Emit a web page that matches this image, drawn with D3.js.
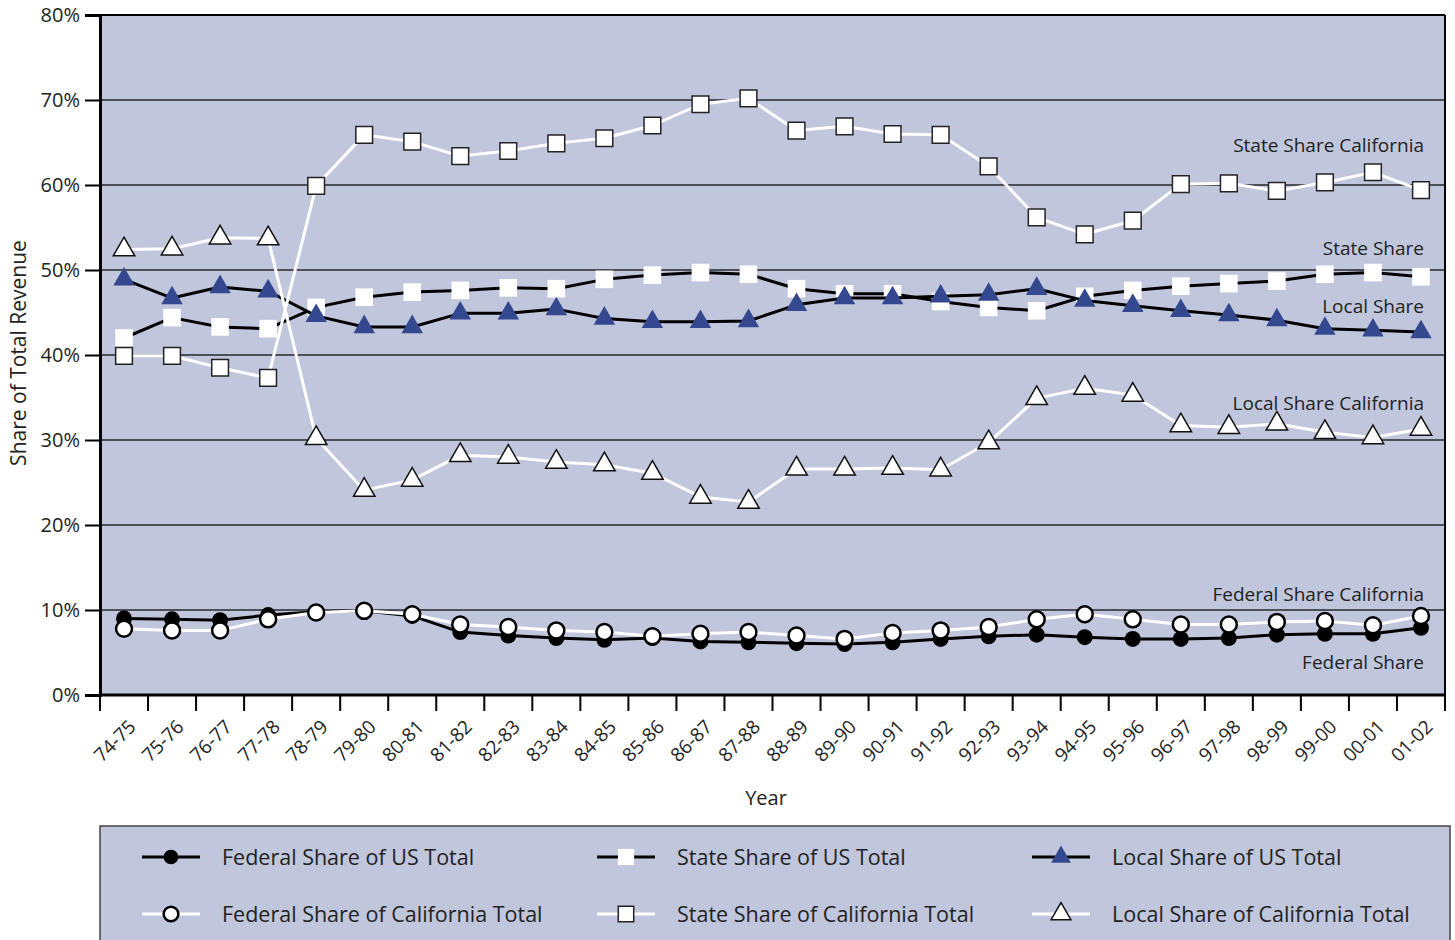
<!DOCTYPE html>
<html>
<head>
<meta charset="utf-8">
<script src="https://cdn.jsdelivr.net/npm/d3@7"></script>
<style>
  body { margin: 0; background: #fff; }
  text { font-family: "Open Sans", sans-serif; fill: #222; }
</style>
</head>
<body>
<div id="chart"></div>
<script>
  var years = ['74-75', '75-76', '76-77', '77-78', '78-79', '79-80', '80-81', '81-82',
    '82-83', '83-84', '84-85', '85-86', '86-87', '87-88', '88-89', '89-90', '90-91',
    '91-92', '92-93', '93-94', '94-95', '95-96', '96-97', '97-98', '98-99', '99-00',
    '00-01', '01-02'];

  // shares in percent
  var federalUS = [9.0, 8.9, 8.8, 9.4, 9.8, 9.9, 9.3, 7.4, 7.0, 6.7, 6.5, 6.7, 6.3, 6.2,
    6.1, 6.0, 6.2, 6.6, 6.9, 7.1, 6.8, 6.6, 6.6, 6.7, 7.1, 7.2, 7.2, 7.9];
  var stateUS = [42.0, 44.4, 43.3, 43.1, 45.6, 46.8, 47.4, 47.6, 47.9, 47.8, 48.9, 49.4,
    49.7, 49.5, 47.8, 47.2, 47.2, 46.3, 45.6, 45.2, 46.9, 47.6, 48.1, 48.4, 48.7, 49.5,
    49.7, 49.2];
  var localUS = [48.9, 46.7, 48.0, 47.5, 44.6, 43.3, 43.3, 44.9, 44.9, 45.4, 44.3, 43.9,
    43.9, 44.0, 45.9, 46.7, 46.7, 46.9, 47.1, 47.8, 46.4, 45.8, 45.2, 44.7, 44.1, 43.1,
    42.9, 42.7];
  var federalCA = [7.8, 7.6, 7.6, 8.9, 9.7, 9.9, 9.5, 8.3, 8.0, 7.6, 7.4, 6.9, 7.2, 7.4,
    7.0, 6.6, 7.3, 7.6, 8.0, 8.9, 9.5, 8.9, 8.3, 8.3, 8.6, 8.7, 8.2, 9.3];
  var stateCA = [39.9, 39.9, 38.5, 37.3, 59.9, 65.9, 65.1, 63.4, 64.0, 64.9, 65.5, 67.0,
    69.5, 70.2, 66.4, 66.9, 66.0, 65.9, 62.2, 56.2, 54.2, 55.8, 60.1, 60.2, 59.3, 60.3,
    61.5, 59.4];
  var localCA = [52.4, 52.5, 53.8, 53.7, 30.2, 24.1, 25.3, 28.2, 28.0, 27.4, 27.1, 26.1,
    23.3, 22.7, 26.6, 26.6, 26.7, 26.5, 29.7, 34.9, 36.1, 35.3, 31.7, 31.5, 31.9, 30.9,
    30.3, 31.3];

  var yTicks = [0, 10, 20, 30, 40, 50, 60, 70, 80];

  var annotations = [
    { text: 'State Share California', y: 145 },
    { text: 'State Share', y: 248 },
    { text: 'Local Share', y: 306 },
    { text: 'Local Share California', y: 403 },
    { text: 'Federal Share California', y: 594 },
    { text: 'Federal Share', y: 662 }
  ];

  var width = 1455;
  var height = 940;
  var plotLeft = 100, plotRight = 1445, plotTop = 15, plotBottom = 695;
  var bg = '#c0c6dc';
  var navy = '#34488f';

  // drawing order: US first, California on top
  var series = [
    { name: 'Federal Share of US Total', values: federalUS, line: '#000', shape: d3.symbolCircle, size: 200, fill: '#000', stroke: 'none', sw: 0 },
    { name: 'State Share of US Total', values: stateUS, line: '#000', shape: d3.symbolSquare, size: 310, fill: '#fff', stroke: 'none', sw: 0 },
    { name: 'Local Share of US Total', values: localUS, line: '#000', shape: d3.symbolTriangle, size: 200, fill: navy, stroke: 'none', sw: 0 },
    { name: 'Federal Share of California Total', values: federalCA, line: '#fff', shape: d3.symbolCircle, size: 200, fill: '#fff', stroke: '#000', sw: 2.5 },
    { name: 'State Share of California Total', values: stateCA, line: '#fff', shape: d3.symbolSquare, size: 280, fill: '#fff', stroke: '#222', sw: 1.5 },
    { name: 'Local Share of California Total', values: localCA, line: '#fff', shape: d3.symbolTriangle, size: 200, fill: '#fff', stroke: '#111', sw: 1.5 }
  ];

  var legendOrder = [0, 1, 2, 3, 4, 5];

  var svg = d3.select('#chart')
    .append('svg')
    .attr('width', width)
    .attr('height', height);

  var x = d3.scaleBand()
    .domain(years)
    .range([plotLeft, plotRight]);

  var y = d3.scaleLinear()
    .domain([0, 80])
    .range([plotBottom, plotTop]);

  // plot background
  svg.append('rect')
    .attr('x', plotLeft)
    .attr('y', plotTop)
    .attr('width', plotRight - plotLeft)
    .attr('height', plotBottom - plotTop)
    .attr('fill', bg);

  // gridlines
  svg.selectAll('.grid')
    .data(yTicks.slice(1))
    .enter()
    .append('line')
    .attr('class', 'grid')
    .attr('x1', plotLeft)
    .attr('x2', plotRight)
    .attr('y1', function(d) { return y(d); })
    .attr('y2', function(d) { return y(d); })
    .attr('stroke', '#000')
    .attr('stroke-opacity', function(d) { return d === 80 ? 1 : 0.8; })
    .attr('stroke-width', function(d) { return d === 80 ? 2 : 1.5; });

  // right border
  svg.append('line')
    .attr('x1', plotRight)
    .attr('x2', plotRight)
    .attr('y1', plotTop)
    .attr('y2', plotBottom)
    .attr('stroke', '#000')
    .attr('stroke-width', 2);

  // y axis
  var yAxis = svg.append('g')
    .attr('transform', 'translate(' + plotLeft + ',0)')
    .call(d3.axisLeft(y)
      .tickValues(yTicks)
      .tickSize(15)
      .tickPadding(5)
      .tickFormat(function(d) { return d + '%'; }));

  yAxis.select('.domain')
    .attr('stroke', '#000')
    .attr('stroke-width', 3);
  yAxis.selectAll('.tick line')
    .attr('stroke', '#000')
    .attr('stroke-width', 2);
  yAxis.selectAll('.tick text')
    .attr('font-size', 20)
    .attr('font-family', '"Open Sans", sans-serif')
    .attr('fill', '#222');

  // x axis: ticks at band edges
  var xAxis = svg.append('g')
    .attr('transform', 'translate(0,' + plotBottom + ')');

  xAxis.append('line')
    .attr('x1', plotLeft)
    .attr('x2', plotRight)
    .attr('stroke', '#000')
    .attr('stroke-width', 3);

  xAxis.selectAll('.xtick')
    .data(years.concat(['end']))
    .enter()
    .append('line')
    .attr('class', 'xtick')
    .attr('x1', function(d) { return d === 'end' ? plotRight : x(d); })
    .attr('x2', function(d) { return d === 'end' ? plotRight : x(d); })
    .attr('y1', 0)
    .attr('y2', 16)
    .attr('stroke', '#000')
    .attr('stroke-width', 2);

  xAxis.selectAll('.xlabel')
    .data(years)
    .enter()
    .append('text')
    .attr('class', 'xlabel')
    .attr('text-anchor', 'end')
    .attr('font-size', 19)
    .attr('transform', function(d) {
      return 'translate(' + (x(d) + x.bandwidth() / 2 + 13) + ',33) rotate(-45)';
    })
    .text(function(d) { return d; });

  // axis titles
  svg.append('text')
    .attr('x', 766)
    .attr('y', 805)
    .attr('text-anchor', 'middle')
    .attr('font-size', 20)
    .text('Year');

  svg.append('text')
    .attr('transform', 'translate(26,353) rotate(-90)')
    .attr('text-anchor', 'middle')
    .attr('font-size', 21)
    .text('Share of Total Revenue');

  // lines and markers
  var line = d3.line()
    .x(function(d, i) { return x(years[i]) + x.bandwidth() / 2; })
    .y(function(d) { return y(d); });

  var symbol = d3.symbol();

  var groups = svg.selectAll('.series')
    .data(series)
    .enter()
    .append('g')
    .attr('class', 'series');

  groups.append('path')
    .attr('d', function(d) { return line(d.values); })
    .attr('fill', 'none')
    .attr('stroke', function(d) { return d.line; })
    .attr('stroke-width', 3)
    .attr('stroke-linejoin', 'round');

  groups.each(function(s) {
    d3.select(this).selectAll('.marker')
      .data(s.values)
      .enter()
      .append('path')
      .attr('class', 'marker')
      .attr('transform', function(d, i) {
        return 'translate(' + (x(years[i]) + x.bandwidth() / 2) + ',' + y(d) + ')';
      })
      .attr('d', symbol.type(s.shape).size(s.size)())
      .attr('fill', s.fill)
      .attr('stroke', s.stroke)
      .attr('stroke-width', s.sw);
  });

  // series labels
  svg.selectAll('.annot')
    .data(annotations)
    .enter()
    .append('text')
    .attr('class', 'annot')
    .attr('x', 1424)
    .attr('y', function(d) { return d.y; })
    .attr('dy', '0.35em')
    .attr('text-anchor', 'end')
    .attr('font-size', 19)
    .text(function(d) { return d.text; });

  // legend
  svg.append('rect')
    .attr('x', 100)
    .attr('y', 826)
    .attr('width', 1350)
    .attr('height', 140)
    .attr('fill', bg)
    .attr('stroke', '#444')
    .attr('stroke-width', 1.5);

  var legendCols = [142, 597, 1032];
  var legendRows = [857, 914];

  var legend = svg.selectAll('.legend')
    .data(legendOrder)
    .enter()
    .append('g')
    .attr('class', 'legend')
    .attr('transform', function(d, i) {
      return 'translate(' + legendCols[i % 3] + ',' + legendRows[Math.floor(i / 3)] + ')';
    });

  legend.append('line')
    .attr('x1', 0)
    .attr('x2', 58)
    .attr('stroke', function(d) { return series[d].line; })
    .attr('stroke-width', 3);

  legend.append('path')
    .attr('transform', 'translate(29,0)')
    .attr('d', function(d) { return symbol.type(series[d].shape).size(series[d].size * 0.85)(); })
    .attr('fill', function(d) { return series[d].fill; })
    .attr('stroke', function(d) { return series[d].stroke; })
    .attr('stroke-width', function(d) { return series[d].sw; });

  legend.append('text')
    .attr('x', 80)
    .attr('dy', '0.35em')
    .attr('font-size', 21.5)
    .text(function(d) { return series[d].name; });
</script>
</body>
</html>
